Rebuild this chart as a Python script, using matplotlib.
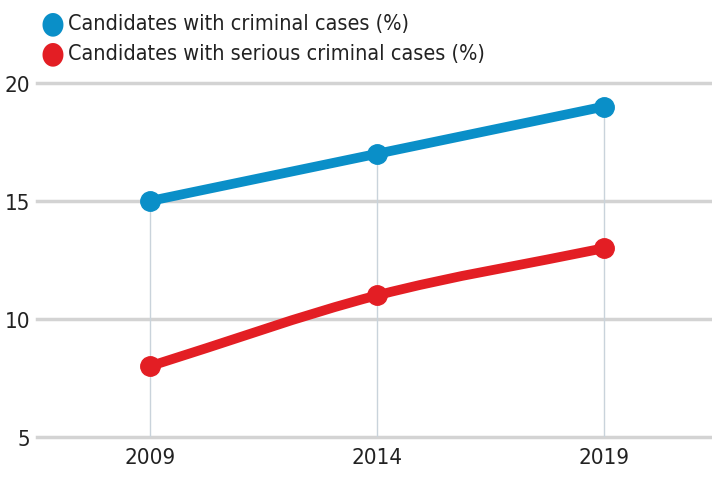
import matplotlib
matplotlib.use("Agg")
import matplotlib.pyplot as plt
from matplotlib.path import Path
from matplotlib.patches import PathPatch
import numpy as np

years = [2009, 2014, 2019]
criminal = [15, 17, 19]
serious = [8, 11, 13]
labels = ["Candidates with criminal cases (%)", "Candidates with serious criminal cases (%)"]
yticks = [5, 10, 15, 20]

blue = "#0a8fc8"
red = "#e31e24"

plt.rcParams['font.family'] = ['DejaVu Sans']
plt.rcParams['font.stretch'] = 'condensed'

fig = plt.figure(figsize=(7.12, 4.85), dpi=100)
ax = fig.add_axes([37/712, 1 - 438/485, 1 - 37/712, (438 - 84)/485])
ax.set_xlim(2006.51, 2021.38)
ax.set_ylim(5, 20)

for y in yticks:
    ax.axhline(y, color="#d3d3d3", lw=2.5, zorder=1, clip_on=False)
for x, a, b in zip(years, criminal, serious):
    ax.vlines(x, 5, max(a, b), color="#c9d3db", lw=1, zorder=1.5)

def smooth_path(xs, ys):
    xs = np.asarray(xs, float); ys = np.asarray(ys, float)
    n = len(xs)
    verts = [(xs[0], ys[0])]
    codes = [Path.MOVETO]
    m = np.zeros(n)
    for i in range(n):
        if i == 0:
            m[i] = (ys[1] - ys[0]) / (xs[1] - xs[0])
        elif i == n - 1:
            m[i] = (ys[-1] - ys[-2]) / (xs[-1] - xs[-2])
        else:
            m[i] = (ys[i+1] - ys[i-1]) / (xs[i+1] - xs[i-1])
    for i in range(n - 1):
        h = xs[i+1] - xs[i]
        verts += [(xs[i] + h/3, ys[i] + m[i]*h/3),
                  (xs[i+1] - h/3, ys[i+1] - m[i+1]*h/3),
                  (xs[i+1], ys[i+1])]
        codes += [Path.CURVE4] * 3
    return Path(verts, codes)

for vals, col in [(criminal, blue), (serious, red)]:
    patch = PathPatch(smooth_path(years, vals), facecolor="none", edgecolor=col,
                      lw=7, capstyle="round", joinstyle="round", zorder=3)
    ax.add_patch(patch)
    ax.plot(years, vals, "o", color=col, ms=14, zorder=4)

for s in ax.spines.values():
    s.set_visible(False)
ax.set_xticks(years)
ax.set_xticklabels([str(y) for y in years])
ax.set_yticks(yticks)
ax.tick_params(axis="both", length=0, labelsize=16, colors="#222222")
ax.tick_params(axis="x", pad=7)
ax.tick_params(axis="y", pad=5)

for i, (lab, col) in enumerate(zip(labels, [blue, red])):
    yy = 1 - (24 + 30*i)/485
    fig.text(52/712, yy, "\u25cf", color=col, fontsize=22, ha="center", va="center",
             family="DejaVu Sans")
    fig.text(68/712, yy, lab, color="#222222", fontsize=15.5, ha="left", va="center")

fig.savefig("out.png", dpi=100)
